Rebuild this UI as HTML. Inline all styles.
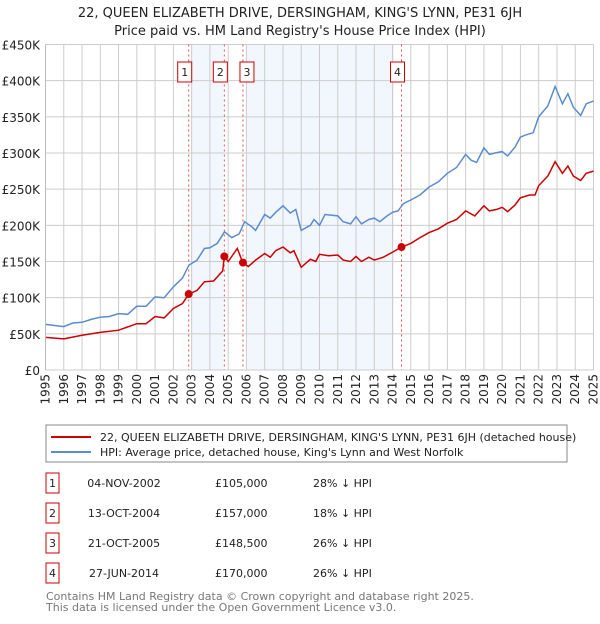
<!DOCTYPE html>
<html><head><meta charset="utf-8">
<style>
body{margin:0;background:#fff;font-family:"DejaVu Sans","Liberation Sans",sans-serif;}
svg text{font-family:"DejaVu Sans","Liberation Sans",sans-serif;}
</style></head>
<body>
<svg width="600" height="620" viewBox="0 0 600 620" xmlns="http://www.w3.org/2000/svg">
<text x="300" y="17" text-anchor="middle" font-size="13" fill="#222">22, QUEEN ELIZABETH DRIVE, DERSINGHAM, KING'S LYNN, PE31 6JH</text>
<text x="300" y="35" text-anchor="middle" font-size="13" fill="#222">Price paid vs. HM Land Registry's House Price Index (HPI)</text>
<g id="plot"></g>
<rect x="46" y="425" width="521" height="37" fill="#fff" stroke="#888"/>
<line x1="51" y1="437" x2="91" y2="437" stroke="#cc0000" stroke-width="2"/>
<text x="100" y="441" font-size="11" fill="#222">22, QUEEN ELIZABETH DRIVE, DERSINGHAM, KING'S LYNN, PE31 6JH (detached house)</text>
<line x1="51" y1="452" x2="91" y2="452" stroke="#5b8bd0" stroke-width="2"/>
<text x="100" y="456" font-size="11" fill="#222">HPI: Average price, detached house, King's Lynn and West Norfolk</text>
<g id="table" font-size="11" fill="#222"></g>
<text x="46" y="600" font-size="11" fill="#777">Contains HM Land Registry data © Crown copyright and database right 2025.</text>
<text x="46" y="611" font-size="11" fill="#777">This data is licensed under the Open Government Licence v3.0.</text>
</svg>
<script>
const hpiYears=[1995,1996,1996.5,1997,1997.5,1998,1998.5,1999,1999.5,2000,2000.5,2001,2001.5,2002,2002.5,2002.85,2003.3,2003.7,2004,2004.4,2004.8,2005.2,2005.6,2005.9,2006.3,2006.5,2007,2007.3,2007.6,2008,2008.4,2008.7,2009,2009.5,2009.7,2010,2010.3,2011,2011.3,2011.7,2012,2012.3,2012.7,2013,2013.3,2013.7,2014,2014.3,2014.6,2015,2015.5,2016,2016.5,2017,2017.5,2018,2018.3,2018.6,2019,2019.3,2019.6,2020,2020.3,2020.7,2021,2021.3,2021.7,2022,2022.5,2022.9,2023.3,2023.6,2023.9,2024.3,2024.6,2025];
const hpiValues=[63,60,65,66,70,73,74,78,77,88,88,101,100,115,127,145,152,168,169,175,191,183,188,205,198,193,215,210,218,227,217,222,193,200,208,200,215,213,205,202,212,202,208,210,205,213,218,220,230,235,242,253,260,272,280,298,290,287,307,298,300,302,296,308,322,325,328,350,365,392,368,382,363,352,368,372];
const priceYears=[1995,1996,1997,1998,1999,2000,2000.5,2001,2001.5,2002,2002.5,2002.84,2003.3,2003.7,2004.2,2004.7,2004.79,2005,2005.5,2005.8,2006.1,2006.5,2007,2007.3,2007.6,2008,2008.4,2008.6,2009,2009.5,2009.8,2010,2010.5,2011,2011.3,2011.7,2012,2012.3,2012.7,2013,2013.5,2014,2014.49,2015,2015.5,2016,2016.5,2017,2017.5,2018,2018.5,2019,2019.3,2019.7,2020,2020.3,2020.7,2021,2021.5,2021.8,2022,2022.5,2022.9,2023.3,2023.6,2023.9,2024.3,2024.6,2025];
const priceValues=[45,43,48,52,55,64,64,74,72,85,92,105,110,122,123,137,157,150,168,148.5,143,152,161,156,165,170,162,165,142,153,150,160,158,159,152,150,157,150,156,152,156,163,170,175,183,190,195,203,208,220,213,227,220,222,225,219,228,238,242,242,255,268,288,272,282,268,262,272,275];
const saleLabels=["1","2","3","4"];
const saleYears=[2002.84,2004.79,2005.81,2014.49];
const saleValues=[105,157,148.5,170];
const saleDates=["04-NOV-2002","13-OCT-2004","21-OCT-2005","27-JUN-2014"];
const salePrices=["£105,000","£157,000","£148,500","£170,000"];
const salePcts=["28% ↓ HPI","18% ↓ HPI","26% ↓ HPI","26% ↓ HPI"];
const yTicks=[0,50,100,150,200,250,300,350,400,450];
const yTickLabels=["£0","£50K","£100K","£150K","£200K","£250K","£300K","£350K","£400K","£450K"];
const xTicks=[1995,1996,1997,1998,1999,2000,2001,2002,2003,2004,2005,2006,2007,2008,2009,2010,2011,2012,2013,2014,2015,2016,2017,2018,2019,2020,2021,2022,2023,2024,2025];
const shadeStarts=[2003.0,2006.0];
const shadeEnds=[2004.74,2014.08];

const NS="http://www.w3.org/2000/svg";
const L=45.5,R=593.5,T=44.5,B=370;
const xs=y=>L+(y-1995)/30*(R-L);
const ys=v=>B-v/450*(B-T);
const plot=document.getElementById('plot');
function mk(tag,attrs,parent){const e=document.createElementNS(NS,tag);for(const k in attrs)e.setAttribute(k,attrs[k]);(parent||plot).appendChild(e);return e;}
for(let i=0;i<shadeStarts.length;i++){
 const r=mk('rect',{x:xs(shadeStarts[i]),y:T,width:xs(shadeEnds[i])-xs(shadeStarts[i]),height:B-T,fill:'#f2f6fd'});
 
 
}
yTicks.forEach((v,i)=>{
 const g=mk('line',{x1:L,x2:R,y1:ys(v),y2:ys(v),stroke:'#cccccc','stroke-width':1});
 
 
 const t=mk('text',{x:40,y:ys(v)+5,'text-anchor':'end','font-size':12,fill:'#222'});
 t.textContent=yTickLabels[i];
 
 
});
xTicks.forEach(y=>{
 const g=mk('line',{x1:xs(y),x2:xs(y),y1:T,y2:B,stroke:'#cccccc','stroke-width':1});
 
 
 const t=mk('text',{x:0,y:0,'text-anchor':'end','font-size':12,fill:'#222',transform:`translate(${xs(y)+4},374) rotate(-90)`});
 t.textContent=y;
 
 
});
saleYears.forEach((y,i)=>{
 const d=mk('line',{x1:xs(y),x2:xs(y),y1:T,y2:B,stroke:'#e05050','stroke-width':1,'stroke-dasharray':'2,3'});
 
 
});
function path(xa,va){return xa.map((y,i)=>(i?'L':'M')+xs(y).toFixed(1)+','+ys(va[i]).toFixed(1)).join('');}
const hp=mk('path',{d:path(hpiYears,hpiValues),fill:'none',stroke:'#5b8bd0','stroke-width':1.5});


const pp=mk('path',{d:path(priceYears,priceValues),fill:'none',stroke:'#cc0000','stroke-width':1.5});


saleYears.forEach((y,i)=>{
 const c=mk('circle',{cx:xs(y),cy:ys(saleValues[i]),r:4,fill:'#cc0000'});
 
 
 const bx=xs(y)-7-(i===2?-4:4);
 const b=mk('rect',{x:bx,y:62,width:14,height:20,fill:'#fff',stroke:'#cc0000'});
 
 
 const t=mk('text',{x:bx+7,y:76,'text-anchor':'middle','font-size':11,fill:'#222'});
 t.textContent=saleLabels[i];
 
 
});
const ax=mk('line',{x1:L,x2:L,y1:T,y2:B,stroke:'#bbb'});


const tb=document.getElementById('table');
saleLabels.forEach((s,i)=>{
 const cy=483+i*30;
 const b=mk('rect',{x:46,y:cy-10,width:13,height:20,fill:'#fff',stroke:'#cc0000'},tb);
 
 
 const cells=[[52.5,s,'middle'],[124,saleDates[i],'middle'],[215,salePrices[i],'start'],[313,salePcts[i],'start']];
 cells.forEach(c=>{
  const t=mk('text',{x:c[0],y:cy+4,'text-anchor':c[2],'font-size':11,fill:'#222'},tb);
  t.textContent=c[1];
  
  
 });
});
</script>
</body></html>
